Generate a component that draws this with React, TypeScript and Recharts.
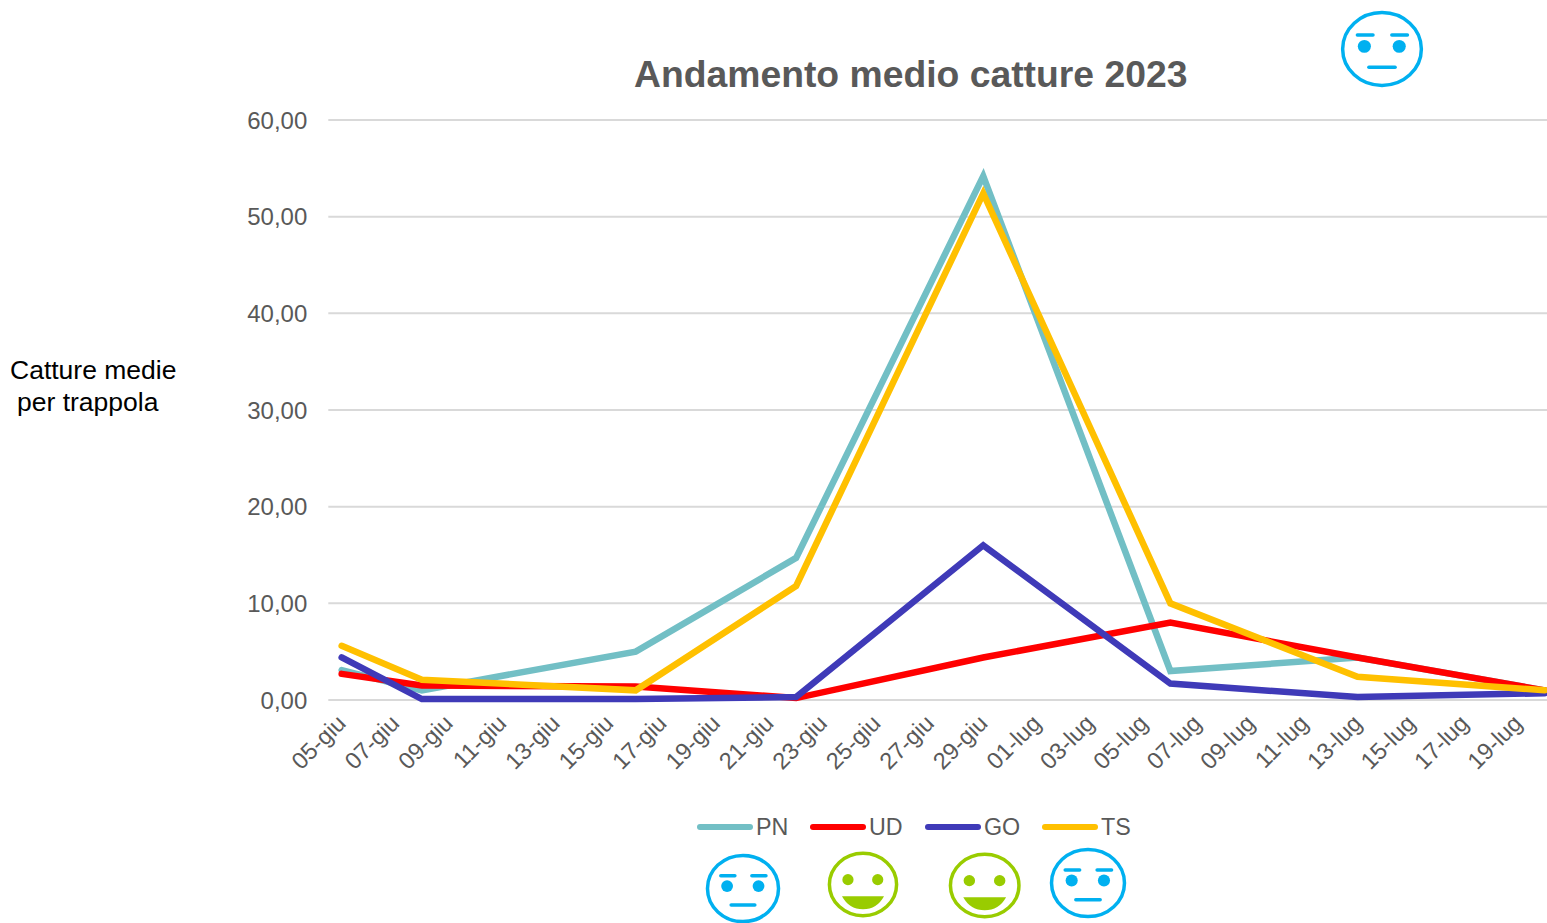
import React from "react";
import { LineChart, Line, XAxis, YAxis, CartesianGrid, Legend } from "recharts";

const sampleDays = [0, 3, 11, 17, 24, 31, 38, 45];
const pn = [3.1, 1.0, 5.0, 14.7, 54.2, 3.0, 4.4, 1.0];
const ud = [2.7, 1.5, 1.4, 0.2, 4.4, 8.0, 4.4, 1.0];
const go = [4.4, 0.1, 0.1, 0.3, 16.0, 1.7, 0.3, 0.7];
const ts = [5.6, 2.1, 1.0, 11.8, 52.4, 10.0, 2.4, 1.0];
const tickDays = [0, 2, 4, 6, 8, 10, 12, 14, 16, 18, 20, 22, 24, 26, 28, 30, 32, 34, 36, 38, 40, 42, 44];
const tickLabels = ["05-giu", "07-giu", "09-giu", "11-giu", "13-giu", "15-giu", "17-giu", "19-giu", "21-giu", "23-giu", "25-giu", "27-giu", "29-giu", "01-lug", "03-lug", "05-lug", "07-lug", "09-lug", "11-lug", "13-lug", "15-lug", "17-lug", "19-lug"];
const yTicks = [0, 10, 20, 30, 40, 50, 60];

const rows = sampleDays.map((day, i) => ({ day, PN: pn[i], UD: ud[i], GO: go[i], TS: ts[i] }));
const FONT = "'Liberation Sans', Arial, sans-serif";
const GREY = "#595959";
const BLUE = "#00B0F0";
const GREEN = "#99CC00";

const XTick = (props: any) => {
  const { x, y, payload } = props;
  const label = tickLabels[tickDays.indexOf(payload.value)];
  return (
    <g transform={`translate(${x},${y + 11})`}>
      <text transform="rotate(-45)" textAnchor="end" dy={8} fontFamily={FONT} fontSize={23.5} fill={GREY}>{label}</text>
    </g>
  );
};

const LegendContent = (props: any) => (
  <div style={{ display: "flex", fontFamily: FONT, fontSize: 23.3, color: GREY, height: 30, alignItems: "center" }}>
    {(props.payload || []).map((p: any, i: number) => (
      <div key={p.value} style={{ display: "flex", alignItems: "center", width: [113, 115, 117, 90][i] }}>
        <svg width={56} height={10} style={{ display: "block", marginRight: 3 }}>
          <line x1={3} y1={5} x2={53} y2={5} stroke={p.color} strokeWidth={6} strokeLinecap="round" />
        </svg>
        <span>{p.value}</span>
      </div>
    ))}
  </div>
);

const Face = ({ cx, cy, rx, ry, happy }: { cx: number; cy: number; rx: number; ry: number; happy: boolean }) => {
  const c = happy ? GREEN : BLUE;
  const ns = { vectorEffect: "non-scaling-stroke" as const };
  return (
    <svg style={{ position: "absolute", left: cx - rx, top: cy - ry, overflow: "visible" }} width={rx * 2} height={ry * 2} viewBox="0 0 100 100" preserveAspectRatio="none">
      <ellipse cx={50} cy={50} rx={48} ry={48} fill="#fff" stroke={c} strokeWidth={3.5} {...ns} />
      {happy ? (
        <>
          <ellipse cx={28.5} cy={42.5} rx={8} ry={8.5} fill={c} />
          <ellipse cx={71} cy={42.5} rx={8} ry={8.5} fill={c} />
          <path d="M20 68 L80 68 Q70 88 50 88 Q30 88 20 68 Z" fill={c} />
        </>
      ) : (
        <>
          <line x1={20} y1={31.5} x2={39} y2={31.5} stroke={c} strokeWidth={3.5} strokeLinecap="round" {...ns} />
          <line x1={62} y1={31.5} x2={81} y2={31.5} stroke={c} strokeWidth={3.5} strokeLinecap="round" {...ns} />
          <ellipse cx={28.5} cy={46.5} rx={8} ry={8.5} fill={c} />
          <ellipse cx={71} cy={46.5} rx={8} ry={8.5} fill={c} />
          <line x1={34} y1={74} x2={66} y2={74} stroke={c} strokeWidth={3.5} strokeLinecap="round" {...ns} />
        </>
      )}
    </svg>
  );
};

const textStyle = (left: number, top: number, size: number): React.CSSProperties => ({
  position: "absolute", left, top, fontFamily: FONT, fontSize: size, lineHeight: 1, whiteSpace: "pre",
});

export default function App() {
  return (
    <div style={{ position: "absolute", left: 0, top: 0, width: 1547, height: 923, overflow: "hidden", background: "#fff" }}>
      <LineChart width={1558} height={923} data={rows} margin={{ top: 90, right: 0, bottom: 123, left: 0 }}>
        <CartesianGrid horizontal vertical={false} stroke="#D9D9D9" strokeWidth={2} />
        <XAxis dataKey="day" type="number" domain={[-0.5, 45.5]} ticks={tickDays} interval={0} axisLine={false} tickLine={false} height={100} tick={<XTick />} />
        <YAxis type="number" domain={[0, 60]} ticks={yTicks} width={328.3} axisLine={false} tickLine={false} tickMargin={15}
          tickFormatter={(v: number) => v.toFixed(2).replace(".", ",")}
          tick={{ fontFamily: FONT, fontSize: 24, fill: GREY }} />
        <Legend itemSorter={null} content={<LegendContent />} layout="horizontal" verticalAlign="top" align="left" wrapperStyle={{ position: "absolute", left: 697, top: 812, width: 450 }} />
        <Line dataKey="PN" stroke="#72BFC5" strokeWidth={6.5} dot={false} isAnimationActive={false} strokeLinecap="round" />
        <Line dataKey="UD" stroke="#FF0000" strokeWidth={6.5} dot={false} isAnimationActive={false} strokeLinecap="round" />
        <Line dataKey="GO" stroke="#3F3AB8" strokeWidth={6.5} dot={false} isAnimationActive={false} strokeLinecap="round" />
        <Line dataKey="TS" stroke="#FFC000" strokeWidth={6.5} dot={false} isAnimationActive={false} strokeLinecap="round" />
      </LineChart>
      <div style={{ ...textStyle(634, 56, 37.3), fontWeight: 700, color: GREY }}>Andamento medio catture 2023</div>
      <div style={textStyle(10, 357, 26.5)}>Catture medie</div>
      <div style={textStyle(17, 389, 26.5)}>per trappola</div>
      <Face cx={1382} cy={48.5} rx={41} ry={38} happy={false} />
      <Face cx={743} cy={888.5} rx={37} ry={34.5} happy={false} />
      <Face cx={862.7} cy={884.5} rx={35} ry={32.5} happy />
      <Face cx={985} cy={885} rx={35.7} ry={32.5} happy />
      <Face cx={1088} cy={882.5} rx={38} ry={35} happy={false} />
    </div>
  );
}
